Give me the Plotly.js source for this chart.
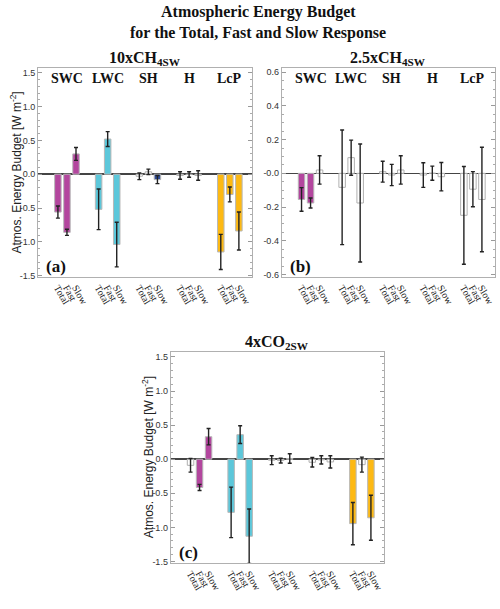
<!DOCTYPE html>
<html>
<head>
<meta charset="utf-8">
<script src="https://cdn.plot.ly/plotly-3.0.1.min.js"></script>
<style>html,body{margin:0;padding:0;background:#fff;}#chart{width:500px;height:609px;}</style>
</head>
<body>
<div id="chart"></div>
<script>
// ---- data ----
const groups = ['SWC', 'LWC', 'SH', 'H', 'LcP'];
const responses = ['Total', 'Fast', 'Slow'];
const groupColors = ['#B3469E', '#5CC7DA', '#2F4E9C', '#888888', '#FDB913'];

const titleLines = ['Atmospheric Energy Budget', 'for the Total, Fast and Slow Response'];
const panelTitles = ['10xCH<sub>4SW</sub>', '2.5xCH<sub>4SW</sub>', '4xCO<sub>2SW</sub>'];
const panelLetters = ['(a)', '(b)', '(c)'];
const yTitle = 'Atmos. Energy Budget [W m<sup>-2</sup>]';

// values per panel, ordered group by group: Total, Fast, Slow
const valuesA = [-0.56, -0.86, 0.30, -0.52, 0.52, -1.04, -0.03, 0.035, -0.08, -0.02, -0.005, -0.02, -1.15, -0.30, -0.84];
const errorsA = [0.09, 0.045, 0.095, 0.30, 0.11, 0.33, 0.05, 0.04, 0.06, 0.055, 0.04, 0.07, 0.26, 0.11, 0.28];
const signifA = [1, 1, 1, 1, 1, 1, 0, 0, 1, 0, 0, 0, 1, 1, 1];

const valuesB = [-0.155, -0.176, 0.02, -0.083, 0.093, -0.176, 0.01, -0.01, 0.02, -0.01, 0.001, -0.02, -0.249, -0.094, -0.155];
const errorsB = [0.07, 0.03, 0.084, 0.34, 0.104, 0.35, 0.062, 0.063, 0.084, 0.073, 0.042, 0.084, 0.29, 0.104, 0.31];
const signifB = [1, 1, 0, 0, 0, 0, 0, 0, 0, 0, 0, 0, 0, 0, 0];

const valuesC = [-0.09, -0.415, 0.33, -0.78, 0.36, -1.13, -0.015, -0.02, 0.01, -0.045, -0.01, -0.04, -0.945, -0.08, -0.86];
const errorsC = [0.10, 0.045, 0.12, 0.37, 0.13, 0.40, 0.065, 0.035, 0.07, 0.07, 0.06, 0.09, 0.31, 0.11, 0.33];
const signifC = [0, 1, 1, 1, 1, 1, 0, 0, 0, 0, 0, 0, 1, 0, 1];

const tickValsBig = [-1.5, -1.0, -0.5, 0.0, 0.5, 1.0, 1.5];
const tickTextBig = ['-1.5', '-1.0', '-0.5', '0.0', '0.5', '1.0', '1.5'];
const tickValsSmall = [-0.6, -0.4, -0.2, 0.0, 0.2, 0.4, 0.6];
const tickTextSmall = ['-0.6', '-0.4', '-0.2', '-0.0', '0.2', '0.4', '0.6'];

// ---- layout helpers ----
const W = 500, H = 609;
const GROUP_STEP = 4.5;
const xPos = [], xText = [];
groups.forEach((g, gi) => responses.forEach((r, ri) => { xPos.push(gi * GROUP_STEP + ri); xText.push(r); }));
const groupCenters = groups.map((g, gi) => gi * GROUP_STEP + 1);
const XRANGE = [-2.2, 21.45];

const px = v => v / W;
const py = v => 1 - v / H;

const panels = [
  {vals: valuesA, errs: errorsA, sig: signifA, dom: [38, 252, 68, 277], yr: [-1.52, 1.57], tv: tickValsBig, tt: tickTextBig, minor: 0.1, ytitle: true, glabels: true},
  {vals: valuesB, errs: errorsB, sig: signifB, dom: [281.7, 495, 68, 277], yr: [-0.615, 0.625], tv: tickValsSmall, tt: tickTextSmall, minor: 0.05, ytitle: false, glabels: true},
  {vals: valuesC, errs: errorsC, sig: signifC, dom: [170.7, 384, 352, 563], yr: [-1.523, 1.573], tv: tickValsBig, tt: tickTextBig, minor: 0.1, ytitle: true, glabels: false}
];

const serif = 'Liberation Serif, Times New Roman, serif';
const sansN = 'Liberation Sans Narrow, Arial Narrow, Liberation Sans, Arial, sans-serif';

const traces = [];
const layout = {
  width: W, height: H,
  margin: {l: 0, r: 0, t: 0, b: 0},
  paper_bgcolor: '#fff', plot_bgcolor: '#fff',
  showlegend: false,
  bargap: 0,
  annotations: []
};

// main title (two lines)
titleLines.forEach((t, i) => layout.annotations.push({
  xref: 'paper', yref: 'paper', x: px(258), y: py(12 + i * 21), xanchor: 'center', yanchor: 'middle',
  text: '<b>' + t + '</b>', showarrow: false,
  font: {family: serif, size: 16, color: '#111'}
}));

panels.forEach((p, i) => {
  const sx = i === 0 ? '' : String(i + 1);
  const fill = p.sig.map((s, k) => s ? groupColors[Math.floor(k / 3)] : '#ffffff');
  const outline = p.sig.map(s => s ? '#b8b8b8' : '#b0b0b0');
  traces.push({
    type: 'bar', x: xPos, y: p.vals, width: 0.72,
    xaxis: 'x' + sx, yaxis: 'y' + sx,
    marker: {color: fill, line: {color: outline, width: 1}},
    error_y: {type: 'data', array: p.errs, visible: true, color: '#222', thickness: 1.4, width: 2}
  });
  layout['xaxis' + sx] = {
    domain: [px(p.dom[0]), px(p.dom[1])], anchor: 'y' + sx,
    range: XRANGE, tickmode: 'array', tickvals: xPos, ticktext: xText,
    tickangle: 60, ticks: '', showgrid: false, zeroline: false,
    showline: true, mirror: true, linecolor: '#b0b0b0', linewidth: 1,
    tickfont: {family: serif, size: 10, color: '#222'}
  };
  layout['yaxis' + sx] = {
    domain: [py(p.dom[3]), py(p.dom[2])], anchor: 'x' + sx,
    range: p.yr, tickmode: 'array', tickvals: p.tv, ticktext: p.tt,
    ticks: 'inside', ticklen: 4, tickcolor: '#999', tickwidth: 1,
    minor: {tickmode: 'linear', tick0: 0, dtick: p.minor, ticks: 'inside', ticklen: 2, tickcolor: '#aaa', showgrid: false},
    showgrid: false, showline: true, mirror: 'allticks', linecolor: '#b0b0b0', linewidth: 1,
    zeroline: true, zerolinecolor: '#444', zerolinewidth: 1.5,
    tickfont: {family: sansN, size: 9, color: '#333'}
  };
  const cx = (p.dom[0] + p.dom[1]) / 2;
  // panel title
  layout.annotations.push({
    xref: 'paper', yref: 'paper', x: px(cx), y: py(p.dom[2] - 9.5), xanchor: 'center', yanchor: 'middle',
    text: '<b>' + panelTitles[i] + '</b>', showarrow: false,
    font: {family: serif, size: 16, color: '#111'}
  });
  // panel letter
  layout.annotations.push({
    xref: 'paper', yref: 'paper', x: px(p.dom[0] + 6), y: py(p.dom[3] - 11), xanchor: 'left', yanchor: 'middle',
    text: '<b>' + panelLetters[i] + '</b>', showarrow: false,
    font: {family: serif, size: 17, color: '#111'}
  });
  if (p.glabels) {
    groups.forEach((g, gi) => layout.annotations.push({
      xref: 'x' + sx, yref: 'paper', x: groupCenters[gi], y: py(p.dom[2] + 10), xanchor: 'center', yanchor: 'middle',
      text: '<b>' + g + '</b>', showarrow: false,
      font: {family: serif, size: 14, color: '#111'}
    }));
  }
  if (p.ytitle) {
    layout.annotations.push({
      xref: 'paper', yref: 'paper', x: px(p.dom[0] - 23), y: py((p.dom[2] + p.dom[3]) / 2), xanchor: 'center', yanchor: 'middle',
      text: yTitle, textangle: -90, showarrow: false,
      font: {family: sansN, size: 12, color: '#222'}
    });
  }
});

Plotly.newPlot('chart', traces, layout, {displayModeBar: false, staticPlot: true});
</script>
</body>
</html>
